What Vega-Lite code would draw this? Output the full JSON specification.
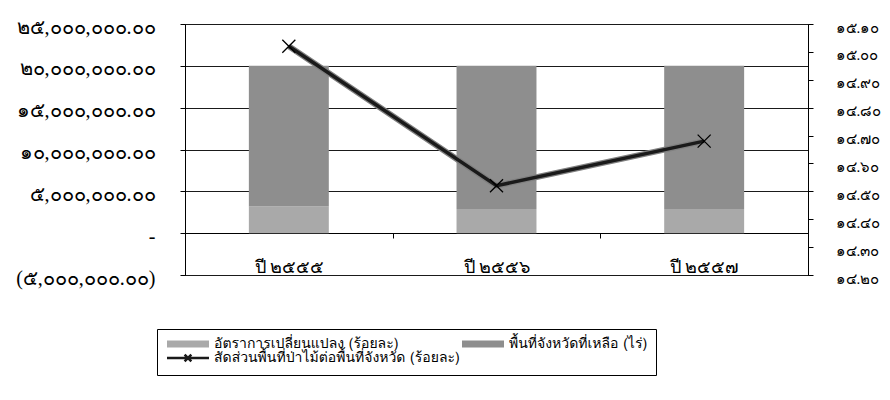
{
  "$schema": "https://vega.github.io/schema/vega-lite/v6.json",
  "width": 623,
  "height": 251,
  "autosize": {"type": "none"},
  "padding": {"left": 185, "top": 24, "right": 82, "bottom": 125},
  "background": "#ffffff",
  "config": {
    "font": "Norasi, Loma, sans-serif",
    "view": {"stroke": "#000000", "strokeWidth": 1},
    "axis": {"labelColor": "#000000", "domainColor": "#000000", "tickColor": "#000000", "gridColor": "#1a1a1a", "labelFont": "Norasi", "tickSize": 5, "title": null}
  },
  "data": {
    "values": [
      {"year": "ปี ๒๕๕๕", "series": "อัตราการเปลี่ยนแปลง (ร้อยละ)", "value": 3200000},
      {"year": "ปี ๒๕๕๖", "series": "อัตราการเปลี่ยนแปลง (ร้อยละ)", "value": 2900000},
      {"year": "ปี ๒๕๕๗", "series": "อัตราการเปลี่ยนแปลง (ร้อยละ)", "value": 2900000},
      {"year": "ปี ๒๕๕๕", "series": "พื้นที่จังหวัดที่เหลือ (ไร่)", "value": 16800000},
      {"year": "ปี ๒๕๕๖", "series": "พื้นที่จังหวัดที่เหลือ (ไร่)", "value": 17100000},
      {"year": "ปี ๒๕๕๗", "series": "พื้นที่จังหวัดที่เหลือ (ไร่)", "value": 17100000},
      {"year": "ปี ๒๕๕๕", "series": "สัดส่วนพื้นที่ป่าไม้ต่อพื้นที่จังหวัด (ร้อยละ)", "value": 15.02},
      {"year": "ปี ๒๕๕๖", "series": "สัดส่วนพื้นที่ป่าไม้ต่อพื้นที่จังหวัด (ร้อยละ)", "value": 14.52},
      {"year": "ปี ๒๕๕๗", "series": "สัดส่วนพื้นที่ป่าไม้ต่อพื้นที่จังหวัด (ร้อยละ)", "value": 14.68}
    ]
  },
  "encoding": {
    "x": {
      "field": "year", "type": "nominal", "sort": ["ปี ๒๕๕๕", "ปี ๒๕๕๖", "ปี ๒๕๕๗"],
      "scale": {"paddingInner": 0, "paddingOuter": 0},
      "axis": {"orient": "bottom", "offset": -42, "tickBand": "extent", "labelAngle": 0, "labelPadding": 20, "labelFontSize": 18, "grid": false, "domain": true}
    }
  },
  "layer": [
    {
      "transform": [{"filter": "datum.series != 'สัดส่วนพื้นที่ป่าไม้ต่อพื้นที่จังหวัด (ร้อยละ)'"}],
      "mark": {"type": "bar", "width": {"band": 0.385}},
      "encoding": {
        "y": {
          "field": "value", "type": "quantitative", "stack": "zero",
          "scale": {"domain": [-5000000, 25000000], "nice": false, "zero": false},
          "axis": {
            "orient": "left", "values": [-5000000, 0, 5000000, 10000000, 15000000, 20000000, 25000000],
            "grid": true, "labelPadding": 25, "labelFontSize": 20, "labelOffset": 3,
            "labelExpr": "datum.value == 0 ? '-\u00a0\u00a0\u00a0' : (datum.value < 0 ? '(' : '') + replace(replace(replace(replace(replace(replace(replace(replace(replace(replace(format(abs(datum.value), ',.2f'), regexp('0','g'), '๐'), regexp('1','g'), '๑'), regexp('2','g'), '๒'), regexp('3','g'), '๓'), regexp('4','g'), '๔'), regexp('5','g'), '๕'), regexp('6','g'), '๖'), regexp('7','g'), '๗'), regexp('8','g'), '๘'), regexp('9','g'), '๙') + (datum.value < 0 ? ')' : '\u00a0')"
          }
        },
        "order": {"field": "series", "sort": "descending"},
        "color": {
          "field": "series", "type": "nominal",
          "scale": {
            "domain": ["อัตราการเปลี่ยนแปลง (ร้อยละ)", "พื้นที่จังหวัดที่เหลือ (ไร่)", "สัดส่วนพื้นที่ป่าไม้ต่อพื้นที่จังหวัด (ร้อยละ)"],
            "range": ["#a9a9a9", "#8e8e8e", "#1a1a1a"]
          },
          "legend": {
            "title": null, "orient": "none", "legendX": -28, "legendY": 305, "direction": "horizontal",
            "columns": 2, "columnPadding": 0, "rowPadding": -7, "padding": 8,
            "strokeColor": "#000000", "labelFontSize": 14, "labelColor": "#000000", "labelLimit": 0, "labelFont": "Loma",
            "symbolSize": 1764, "labelOffset": 35,
            "labelExpr": "datum.index == 1 ? datum.label + '\u2003\u2003\u2003\u2003\u2003\u2003' : datum.label",
            "encode": {
              "symbols": {
                "update": {
                  "shape": {"signal": "datum.value == 'สัดส่วนพื้นที่ป่าไม้ต่อพื้นที่จังหวัด (ร้อยละ)' ? 'M-0.238,0H1.762M0.6,-0.16L0.92,0.16M0.6,0.16L0.92,-0.16' : 'M-0.238,-0.17H1.762V0.17H-0.238Z'"},
                  "fill": {"signal": "datum.value == 'สัดส่วนพื้นที่ป่าไม้ต่อพื้นที่จังหวัด (ร้อยละ)' ? 'transparent' : (datum.value == 'อัตราการเปลี่ยนแปลง (ร้อยละ)' ? '#a9a9a9' : '#8e8e8e')"},
                  "stroke": {"signal": "datum.value == 'สัดส่วนพื้นที่ป่าไม้ต่อพื้นที่จังหวัด (ร้อยละ)' ? '#1a1a1a' : 'transparent'"},
                  "strokeWidth": {"signal": "datum.value == 'สัดส่วนพื้นที่ป่าไม้ต่อพื้นที่จังหวัด (ร้อยละ)' ? 2.5 : 0"},
                  "opacity": {"value": 1}
                }
              }
            }
          }
        }
      }
    },
    {
      "transform": [{"filter": "datum.series == 'สัดส่วนพื้นที่ป่าไม้ต่อพื้นที่จังหวัด (ร้อยละ)'"}],
      "encoding": {
        "y": {
          "field": "value", "type": "quantitative",
          "scale": {"domain": [14.2, 15.1], "nice": false, "zero": false},
          "axis": {
            "orient": "right", "values": [14.2, 14.3, 14.4, 14.5, 14.6, 14.7, 14.8, 14.9, 15.0, 15.1],
            "grid": false, "labelPadding": 22, "labelFontSize": 15, "labelOffset": 3,
            "labelExpr": "replace(replace(replace(replace(replace(replace(replace(replace(replace(replace(format(datum.value, '.2f'), regexp('0','g'), '๐'), regexp('1','g'), '๑'), regexp('2','g'), '๒'), regexp('3','g'), '๓'), regexp('4','g'), '๔'), regexp('5','g'), '๕'), regexp('6','g'), '๖'), regexp('7','g'), '๗'), regexp('8','g'), '๘'), regexp('9','g'), '๙')"
          }
        }
      },
      "layer": [
        {
          "mark": {"type": "line", "color": "#808080", "strokeWidth": 6}
        },
        {
          "mark": {"type": "line", "strokeWidth": 3.5},
          "encoding": {
            "color": {"field": "series", "type": "nominal"}
          }
        },
        {
          "mark": {"type": "point", "shape": "M-1,-1L1,1M-1,1L1,-1", "size": 170, "filled": false, "color": "#000000", "strokeWidth": 1.3, "opacity": 1}
        }
      ]
    }
  ],
  "resolve": {"scale": {"y": "independent"}, "axis": {"y": "independent"}}
}
